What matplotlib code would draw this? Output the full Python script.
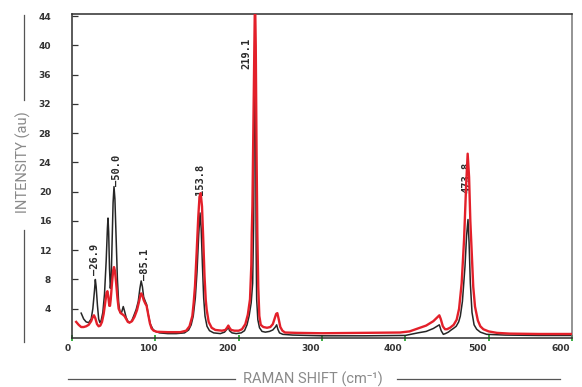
import matplotlib
matplotlib.use('Agg')
import matplotlib.pyplot as plt
import matplotlib.transforms as mtransforms
from matplotlib.lines import Line2D

# black spectrum (raman shift cm-1, intensity au)
black_x = [11, 14, 17, 20, 23, 25, 27, 28, 29, 30.5, 32, 33.5, 35, 37, 39, 41, 42.5, 43.2, 44, 45, 46,
           47, 48, 49.3, 50.4, 51.5, 53, 54.5, 56, 57.5, 59.5, 61.5, 63, 65, 67, 69, 71.5, 74, 77, 79.5,
           81.5, 83, 84.5, 86, 88, 89.5, 91.5, 94, 97, 100, 105, 115, 125, 135, 140, 143, 145.5, 148,
           150, 152, 153.6, 155, 156.5, 158, 159.6, 162, 165, 170, 178, 183, 186, 187.6, 189, 192, 197,
           203, 207, 210, 212.5, 215, 216.8, 218, 219, 219.6, 220.3, 221, 221.6, 223, 225, 228, 232,
           237, 241, 244, 245.6, 247, 249, 253, 265, 300, 350, 400, 415, 425, 433.6, 438, 440.8, 443,
           445.6, 448, 451.6, 455, 457.6, 461, 464, 466, 468.5, 471.6, 473.5, 475.2, 476.5, 478, 480,
           482.5, 485.6, 490, 497.6, 520, 560, 600]
black_y = [3.4, 2.6, 2.2, 2.1, 2.6, 4.0, 6.5, 8.0, 7.0, 4.5, 2.6, 2.1, 2.4, 3.5, 6.0, 10.5, 15.0, 16.4, 14.5, 9.5, 6.8,
           8.0, 12.5, 18.5, 20.7, 19.0, 13.5, 8.0, 4.8, 3.5, 3.5, 4.3, 3.7, 2.8, 2.3, 2.1, 2.3, 3.0, 3.9, 5.0,
           6.8, 7.8, 7.0, 5.6, 5.0, 4.6, 3.2, 1.9, 1.2, 0.9, 0.7, 0.6, 0.6, 0.7, 1.1, 1.8, 3.0, 5.5,
           9.0, 14.0, 17.1, 15.0, 10.0, 5.5, 3.0, 1.6, 1.0, 0.7, 0.6, 0.8, 1.2, 1.5, 1.0, 0.7, 0.6,
           0.7, 1.0, 1.8, 3.0, 4.8, 7.5, 16.0, 35.0, 46.0, 32.0, 12.0, 5.3, 2.5, 1.4, 0.9, 0.8,
           0.9, 1.1, 1.5, 1.8, 1.2, 0.7, 0.5, 0.4, 0.3, 0.3, 0.35, 0.7, 0.9, 1.3, 1.6, 1.8, 1.0,
           0.5, 0.6, 0.8, 1.1, 1.3, 1.6, 2.2, 3.0, 5.0, 9.8, 14.0, 16.2, 13.0, 7.5, 3.5,
           1.8, 1.2, 0.8, 0.5, 0.4, 0.35, 0.35]

# red spectrum
red_x = [5, 8, 11, 14, 17, 20, 23, 25, 26.4, 28, 30, 32, 34, 36, 38, 40, 41.5, 42.5, 43.5, 44.8, 45.6,
         46.5, 48, 49.5, 50.4, 51.5, 53, 54.5, 56, 58.4, 61, 63, 65, 67, 69, 72, 75, 78, 80.5, 82, 83,
         84.5, 86, 88, 89.5, 91.5, 93.5, 95.5, 98, 102, 115, 130, 137, 141, 144.4, 146, 147.6, 149.5,
         151.5, 153, 154.4, 156, 157.5, 159, 160.5, 161.6, 164, 167.6, 172, 180, 184, 186, 187.6, 189,
         191, 195, 200, 204, 208, 211, 213.6, 215.2, 215.7, 216.5, 217.8, 219.0, 219.6, 220.5, 221.5,
         222.4, 223.5, 224.8, 226.5, 229.6, 234, 238, 241, 243.5, 245, 246.4, 248, 250, 252.5, 255.6,
         270, 300, 350, 393.6, 405, 417.6, 425, 433.6, 438, 440.8, 442.5, 445, 447.6, 450, 453.6, 458,
         461.6, 464.5, 467.6, 470.5, 473, 474.8, 476.5, 478, 479.6, 481.5, 483.6, 487, 490, 493.6, 500,
         510, 525, 560, 600]
red_y = [2.2, 1.8, 1.5, 1.5, 1.6, 1.8, 2.3, 2.9, 3.1, 2.7, 1.9, 1.6, 1.7, 2.2, 3.3, 5.0, 6.2, 6.4, 5.7, 4.4, 4.4,
         5.3, 7.5, 9.3, 9.7, 9.2, 7.5, 5.5, 4.0, 3.4, 3.2, 3.0, 2.6, 2.2, 2.1, 2.3, 2.9, 3.8, 5.0, 5.8, 6.1,
         5.8, 5.2, 4.7, 4.4, 3.2, 2.0, 1.3, 1.0, 0.85, 0.8, 0.8, 1.0, 1.6, 3.0, 4.8, 7.1, 11.5,
         16.5, 19.3, 19.8, 18.0, 13.5, 8.5, 5.2, 3.9, 2.2, 1.4, 1.1, 1.0, 1.1, 1.4, 1.7, 1.4,
         1.1, 1.0, 1.0, 1.2, 1.9, 3.2, 5.3, 10.0, 14.3, 18.0, 30.0, 42.0, 47.0, 40.0, 25.0,
         14.3, 7.0, 3.0, 1.8, 1.5, 1.4, 1.5, 1.9, 2.8, 3.3, 3.4, 2.6, 1.5, 1.0, 0.75,
         0.7, 0.65, 0.7, 0.75, 0.9, 1.4, 1.7, 2.3, 2.8, 3.1, 2.6, 1.6, 1.2, 1.2, 1.4, 1.8,
         2.5, 4.0, 7.5, 13.5, 21.0, 25.2, 22.0, 16.0, 12.0, 7.0, 4.3, 2.4, 1.6, 1.2, 0.9,
         0.7, 0.6, 0.55, 0.55]

# peak labels: text, x, bottom of text (data units)
peak_text = ['\u201426.9', '\u201450.0', '\u201485.1', '153.8', '219.1', '473.8']
peak_x = [27.5, 54, 87, 153.8, 209.5, 474]
peak_y = [8.6, 20.8, 7.9, 19.6, 36.8, 19.8]

y_ticks = [4, 8, 12, 16, 20, 24, 28, 32, 36, 40, 44]
x_ticks = [0, 100, 200, 300, 400, 500, 600]

fig = plt.figure(figsize=(5.82, 3.87), dpi=100)
ax = fig.add_axes([72 / 582, 49 / 387, 500 / 582, 324 / 387])

for txt, px, py in zip(peak_text, peak_x, peak_y):
    ax.text(px, py, txt, rotation=90, ha='center', va='bottom', fontsize=7.5,
            family='DejaVu Sans Mono', fontweight='bold', color='#2a2a2a', zorder=1)

ax.plot(black_x, black_y, color='#262626', lw=1.1, zorder=2)
ax.plot(red_x, red_y, color='#e3202a', lw=1.7, zorder=3)

ax.set_xlim(0, 600)
ax.set_ylim(0, 44.3)

for s in ax.spines.values():
    s.set_color('#2e2e2e')
    s.set_linewidth(1.1)
ax.spines['right'].set_color('#777777')

ax.set_yticks(y_ticks)
ax.set_yticklabels([str(v) for v in y_ticks])
ax.tick_params(axis='y', direction='in', length=4, width=0.9, color='#333333', pad=15,
               labelsize=6.5, labelcolor='#333333')
ax.set_xticks(x_ticks)
ax.set_xticklabels([str(v) for v in x_ticks])
ax.tick_params(axis='x', direction='inout', length=5, width=1.4, color='#3cb043', pad=2,
               labelsize=6.5, labelcolor='#333333')
for lab in ax.get_yticklabels() + ax.get_xticklabels():
    lab.set_fontweight('bold')
# scanned tick labels sit a bit to the left of the ticks
for lab, dx in zip(ax.get_xticklabels(), [-4, -7, -11, -11, -12, -11, -11]):
    shift = mtransforms.ScaledTranslation(dx / 100, 0, fig.dpi_scale_trans)
    lab.set_transform(lab.get_transform() + shift)

grey = '#8a8a8a'
fig.text(23 / 582, 0.58, 'INTENSITY (au)', rotation=90, ha='center', va='center',
         fontsize=10.5, color=grey, family=['Roboto', 'DejaVu Sans'])
fig.text(313 / 582, 0.02, 'RAMAN SHIFT (cm\u207b\u00b9)', ha='center', va='center',
         fontsize=10.5, color=grey, family=['Roboto', 'DejaVu Sans'])

lc = '#555555'
fig.add_artist(Line2D([24 / 582, 24 / 582], [1 - 15 / 387, 1 - 100 / 387], color=lc, lw=0.9))
fig.add_artist(Line2D([24 / 582, 24 / 582], [1 - 230 / 387, 1 - 342 / 387], color=lc, lw=0.9))
fig.add_artist(Line2D([68 / 582, 235 / 582], [1 - 379 / 387, 1 - 379 / 387], color=lc, lw=0.9))
fig.add_artist(Line2D([397 / 582, 560 / 582], [1 - 379 / 387, 1 - 379 / 387], color=lc, lw=0.9))

fig.savefig('out.png', dpi=100)
